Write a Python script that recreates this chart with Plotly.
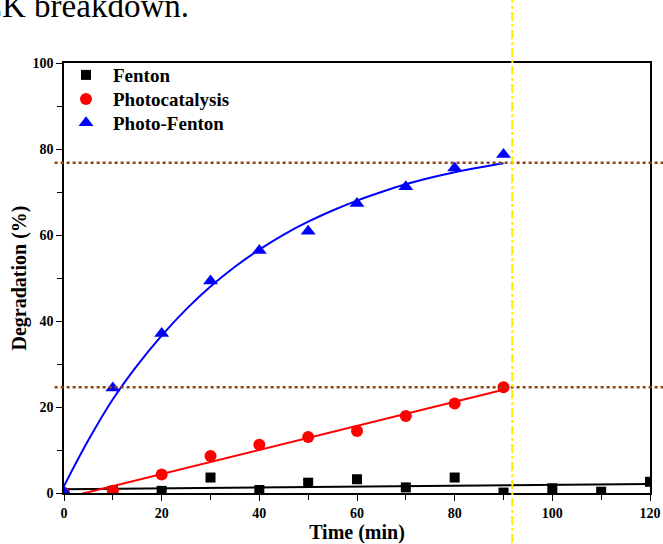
import plotly.graph_objects as go

# ---- data ----
time_fenton = [0, 10, 20, 30, 40, 50, 60, 70, 80, 90, 100, 110, 120]
deg_fenton = [0.0, 0.5, 0.5, 3.6, 0.7, 2.4, 3.2, 1.3, 3.6, 0.1, 1.1, 0.3, 2.6]

time_photo = [0, 10, 20, 30, 40, 50, 60, 70, 80, 90]
deg_photo = [0.0, 0.5, 4.3, 8.6, 11.2, 13.0, 14.4, 17.9, 20.8, 24.6]

time_pf = [0, 10, 20, 30, 40, 50, 60, 70, 80, 90]
deg_pf = [0.3, 24.4, 37.1, 49.3, 56.4, 60.9, 67.3, 71.2, 75.6, 78.7]

# fitted curves
fit_fenton_t = [0, 120]
fit_fenton_y = [0.9, 2.1]
fit_photo_t = [0, 90]
fit_photo_y = [-1.2, 24.0]
fit_pf_t = [0, 5, 10, 15, 20, 25, 30, 35, 40, 45, 50, 55, 60, 65, 70, 75, 80, 85, 90]
fit_pf_y = [1.6, 12.3, 21.8, 29.7, 36.6, 42.7, 48.0, 52.6, 56.6, 60.1, 63.1,
            65.7, 68.0, 70.0, 71.8, 73.3, 74.6, 75.7, 76.7]

ref_levels = [76.8, 24.6]
ref_time = 91.8

x_ticks = [0, 20, 40, 60, 80, 100, 120]
y_ticks = [0, 20, 40, 60, 80, 100]

FONT = "Liberation Serif"

fig = go.Figure()

# fit lines
fig.add_trace(go.Scatter(x=fit_fenton_t, y=fit_fenton_y, mode="lines",
                         line=dict(color="black", width=2), showlegend=False, hoverinfo="skip"))
fig.add_trace(go.Scatter(x=fit_photo_t, y=fit_photo_y, mode="lines",
                         line=dict(color="red", width=2), showlegend=False, hoverinfo="skip"))
fig.add_trace(go.Scatter(x=fit_pf_t, y=fit_pf_y, mode="lines",
                         line=dict(color="blue", width=2, shape="spline"), showlegend=False,
                         hoverinfo="skip"))

# data markers
fig.add_trace(go.Scatter(x=time_fenton, y=deg_fenton, mode="markers", name="Fenton",
                         legend="legend",
                         marker=dict(symbol="square", size=10, color="black")))
fig.add_trace(go.Scatter(x=time_photo, y=deg_photo, mode="markers", name="Photocatalysis",
                         legend="legend2",
                         marker=dict(symbol="circle", size=12, color="red")))
fig.add_trace(go.Scatter(x=time_pf, y=deg_pf, mode="markers", name="Photo-Fenton",
                         legend="legend3",
                         marker=dict(symbol="triangle-up", size=13, color="blue")))

shapes = []
for lvl in ref_levels:
    shapes.append(dict(type="line", xref="paper", yref="y", x0=-0.016, x1=1.03, y0=lvl, y1=lvl,
                       line=dict(color="#8B4513", width=2.5, dash="dot"), layer="above"))
shapes.append(dict(type="line", xref="x", yref="paper", x0=ref_time, x1=ref_time, y0=-0.2, y1=1.2,
                   line=dict(color="#FFEA00", width=2, dash="dashdot"), layer="above"))

legend_style = dict(x=-0.0085, xanchor="left", yanchor="middle",
                    font=dict(family=FONT, size=19, color="black", weight="bold"),
                    itemwidth=44, bgcolor="rgba(0,0,0,0)", borderwidth=0)

fig.update_layout(
    width=663, height=544,
    margin=dict(l=64, r=13, t=63, b=51, autoexpand=False),
    paper_bgcolor="white", plot_bgcolor="white",
    font=dict(family=FONT, color="black"),
    showlegend=True,
    legend=dict(y=0.972, **legend_style),
    legend2=dict(y=0.916, **legend_style),
    legend3=dict(y=0.8605, **legend_style),
    shapes=shapes,
    annotations=[dict(text="CK breakdown.", xref="paper", yref="paper", x=0.2167, y=1.085,
                      xanchor="right", yanchor="bottom", showarrow=False,
                      font=dict(family=FONT, size=33, color="black"))],
)

fig.update_xaxes(range=[0, 120], tickvals=x_ticks, ticktext=[str(v) for v in x_ticks],
                 automargin=False,
                 showgrid=False, zeroline=False, showline=True, linecolor="black", linewidth=1.5,
                 mirror=True, ticks="outside", ticklen=6, tickwidth=1.2, tickcolor="black",
                 minor=dict(ticks="outside", dtick=10, tick0=0, ticklen=5, tickwidth=1.2,
                            tickcolor="black", showgrid=False),
                 tickfont=dict(family=FONT, size=14, color="black", weight="bold"),
                 title=dict(text="Time (min)", standoff=6,
                            font=dict(family=FONT, size=20, color="black", weight="bold")))
fig.update_yaxes(range=[0, 100], tickvals=y_ticks, ticktext=[str(v) for v in y_ticks],
                 automargin=False,
                 showgrid=False, zeroline=False, showline=True, linecolor="black", linewidth=1.5,
                 mirror=True, ticks="outside", ticklen=6, tickwidth=1.2, tickcolor="black",
                 minor=dict(ticks="outside", dtick=10, tick0=0, ticklen=5, tickwidth=1.2,
                            tickcolor="black", showgrid=False),
                 tickfont=dict(family=FONT, size=14, color="black", weight="bold"),
                 title=dict(text="Degradation (%)", standoff=0,
                            font=dict(family=FONT, size=20, color="black", weight="bold")))

fig.write_html("out.html", config={"displayModeBar": False},
               post_script="document.body.style.margin='0';document.body.style.overflow='hidden';")
